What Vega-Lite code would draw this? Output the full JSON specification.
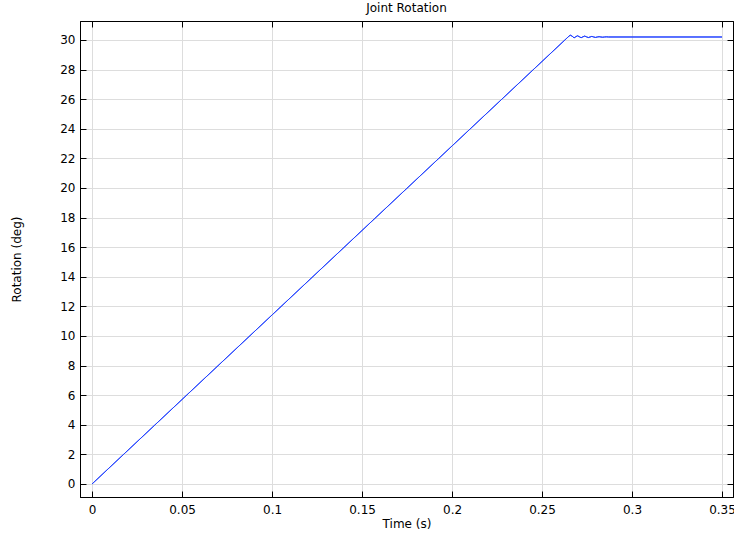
{
  "$schema": "https://vega.github.io/schema/vega-lite/v6.json",
  "width": 653,
  "height": 476,
  "autosize": {"type": "none"},
  "padding": {"left": 80, "top": 21, "right": 1, "bottom": 37},
  "background": "white",
  "config": {
    "font": "DejaVu Sans",
    "view": {"stroke": "black", "strokeWidth": 1},
    "axis": {"gridColor": "#dddddd", "gridWidth": 1, "domainColor": "black", "tickColor": "black", "labelColor": "black", "titleColor": "black", "labelFontSize": 12, "titleFontSize": 12, "titleFontWeight": "normal", "tickSize": -6, "labelPadding": 4}
  },
  "title": {"text": "Joint Rotation", "fontSize": 12, "fontWeight": "normal", "font": "DejaVu Sans", "color": "black", "offset": 6},
  "data": {"values": [
    {"t": 0, "r": 0},
    {"t": 0.265, "r": 30.26},
    {"t": 0.2657, "r": 30.32},
    {"t": 0.2667, "r": 30.26},
    {"t": 0.2678, "r": 30.14},
    {"t": 0.2688, "r": 30.22},
    {"t": 0.2697, "r": 30.28},
    {"t": 0.2707, "r": 30.22},
    {"t": 0.2717, "r": 30.15},
    {"t": 0.2727, "r": 30.21},
    {"t": 0.2737, "r": 30.26},
    {"t": 0.2747, "r": 30.21},
    {"t": 0.2757, "r": 30.16},
    {"t": 0.2767, "r": 30.2},
    {"t": 0.2777, "r": 30.24},
    {"t": 0.2787, "r": 30.2},
    {"t": 0.2797, "r": 30.17},
    {"t": 0.2807, "r": 30.2},
    {"t": 0.2817, "r": 30.22},
    {"t": 0.2827, "r": 30.2},
    {"t": 0.2837, "r": 30.185},
    {"t": 0.2847, "r": 30.2},
    {"t": 0.2857, "r": 30.21},
    {"t": 0.287, "r": 30.2},
    {"t": 0.3, "r": 30.2},
    {"t": 0.35, "r": 30.2}
  ]},
  "layer": [
    {
      "mark": {"type": "line", "color": "#2443ff", "strokeWidth": 1, "clip": true},
      "encoding": {
        "x": {"field": "t", "type": "quantitative", "scale": {"domain": [-0.0067, 0.3561], "nice": false, "zero": false},
              "axis": {"title": "Time (s)", "format": "~g", "values": [0, 0.05, 0.1, 0.15, 0.2, 0.25, 0.3, 0.35], "labelPadding": 13, "titlePadding": 3}},
        "y": {"field": "r", "type": "quantitative", "scale": {"domain": [-0.88, 31.28], "nice": false, "zero": false},
              "axis": {"title": "Rotation (deg)", "values": [0,2,4,6,8,10,12,14,16,18,20,22,24,26,28,30], "labelPadding": 11, "titlePadding": 36}}
      }
    },
    {
      "mark": {"type": "line", "color": "#2443ff", "strokeWidth": 1, "clip": true},
      "encoding": {
        "x": {"field": "t", "type": "quantitative", "scale": {"domain": [-0.0067, 0.3561], "nice": false, "zero": false},
              "axis": {"orient": "top", "title": null, "labels": false, "grid": false, "values": [0, 0.05, 0.1, 0.15, 0.2, 0.25, 0.3, 0.35]}},
        "y": {"field": "r", "type": "quantitative", "scale": {"domain": [-0.88, 31.28], "nice": false, "zero": false},
              "axis": {"orient": "right", "title": null, "labels": false, "grid": false, "values": [0,2,4,6,8,10,12,14,16,18,20,22,24,26,28,30]}}
      }
    }
  ],
  "resolve": {"axis": {"x": "independent", "y": "independent"}}
}
